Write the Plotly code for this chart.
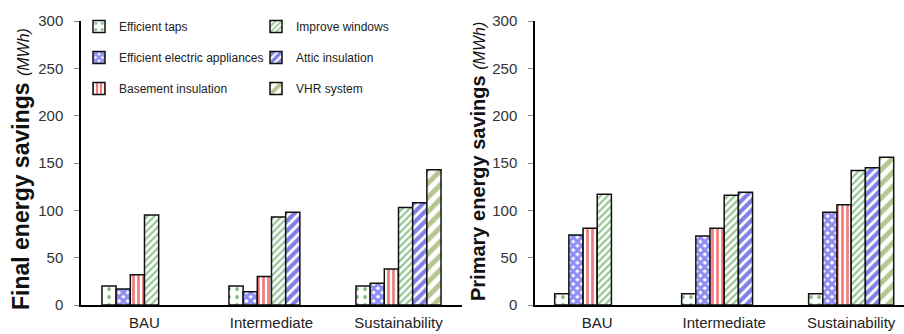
import plotly.graph_objects as go

categories = ["BAU", "Intermediate", "Sustainability"]
series_names = ["Efficient taps", "Efficient electric appliances", "Basement insulation",
                "Improve windows", "Attic insulation", "VHR system"]

final_taps = [20, 20, 20]
final_appliances = [17, 14, 23]
final_basement = [32, 30, 38]
final_windows = [95, 93, 103]
final_attic = [None, 98, 108]
final_vhr = [None, None, 143]

primary_taps = [12, 12, 12]
primary_appliances = [74, 73, 98]
primary_basement = [81, 81, 106]
primary_windows = [117, 116, 142]
primary_attic = [None, 119, 145]
primary_vhr = [None, None, 156]

final_values = [final_taps, final_appliances, final_basement, final_windows, final_attic, final_vhr]
primary_values = [primary_taps, primary_appliances, primary_basement, primary_windows, primary_attic, primary_vhr]

patterns = [
    dict(shape=".", fgcolor="#1e7a1e", bgcolor="white", size=8, solidity=0.2),
    dict(shape="x", fgcolor="#1a1ae6", bgcolor="white", size=6, solidity=0.75),
    dict(shape="|", fgcolor="#e00000", bgcolor="white", size=5, solidity=0.55),
    dict(shape="/", fgcolor="#2e8b2e", bgcolor="white", size=5, solidity=0.45),
    dict(shape="/", fgcolor="#0000cc", bgcolor="white", size=7, solidity=0.6),
    dict(shape="/", fgcolor="#6b8e23", bgcolor="white", size=10, solidity=0.5),
]
legend_ids = ["legend", "legend", "legend", "legend2", "legend2", "legend2"]

fig = go.Figure()
for i, name in enumerate(series_names):
    fig.add_trace(go.Bar(
        x=categories, y=final_values[i], name=name,
        marker=dict(pattern=patterns[i], color="white", line=dict(color="#111111", width=1.5)),
        xaxis="x", yaxis="y", legend=legend_ids[i], legendgroup=name, showlegend=True,
    ))
for i, name in enumerate(series_names):
    fig.add_trace(go.Bar(
        x=categories, y=primary_values[i], name=name,
        marker=dict(pattern=patterns[i], color="white", line=dict(color="#111111", width=1.5)),
        xaxis="x2", yaxis="y2", legend=legend_ids[i], legendgroup=name, showlegend=False,
    ))

W, H = 904, 334
yaxis_common = dict(range=[0, 300], dtick=50, showline=True, linecolor="black", linewidth=1.5,
                    ticks="outside", ticklen=5, tickcolor="#888888", tickwidth=1,
                    tickfont=dict(family="Arial, Liberation Sans", size=15, color="#333333"),
                    showgrid=False, zeroline=False, ticklabelstandoff=8, automargin=False)
xaxis_common = dict(showline=True, linecolor="black", linewidth=1.5, ticks="",
                    tickfont=dict(family="Arial, Liberation Sans", size=15, color="#222222"),
                    showgrid=False, zeroline=False, ticklabelstandoff=3, automargin=False)

fig.update_layout(
    width=W, height=H,
    margin=dict(l=0, r=0, t=21, b=29, autoexpand=False),
    paper_bgcolor="white", plot_bgcolor="white",
    barmode="group", bargap=0.33, bargroupgap=0,
    font=dict(family="Arial, Liberation Sans", color="#222222"),
    xaxis=dict(domain=[81 / W, 462 / W], range=[-0.5, 2.5], anchor="y", **xaxis_common),
    yaxis=dict(domain=[0, 1], anchor="x", **yaxis_common),
    xaxis2=dict(domain=[535 / W, 1.0], range=[-0.49, 2.416], anchor="y2", **xaxis_common),
    yaxis2=dict(domain=[0, 1], anchor="x2", **yaxis_common),
    legend=dict(x=79 / W, y=(305 - 12) / 284, xanchor="left", yanchor="top",
                orientation="v", tracegroupgap=12, bgcolor="rgba(0,0,0,0)",
                font=dict(family="Arial, Liberation Sans", size=12, color="#222222")),
    legend2=dict(x=256 / W, y=(305 - 12) / 284, xanchor="left", yanchor="top",
                 orientation="v", tracegroupgap=12, bgcolor="rgba(0,0,0,0)",
                 font=dict(family="Arial, Liberation Sans", size=12, color="#222222")),
    annotations=[
        dict(text="<b>Final energy savings</b> <i><span style='font-size:16px'>(MWh)</span></i>",
             xref="paper", yref="paper", x=21 / W, y=(305 - 169) / 284,
             xanchor="center", yanchor="middle", textangle=-90, showarrow=False,
             font=dict(family="Arial, Liberation Sans", size=23, color="#111111")),
        dict(text="<b>Primary energy savings</b> <i><span style='font-size:16px'>(MWh)</span></i>",
             xref="paper", yref="paper", x=478 / W, y=(305 - 162) / 284,
             xanchor="center", yanchor="middle", textangle=-90, showarrow=False,
             font=dict(family="Arial, Liberation Sans", size=20, color="#111111")),
    ],
)

fig.write_html("out.html", config={"displayModeBar": False},
               post_script="document.body.style.margin='0px';")
